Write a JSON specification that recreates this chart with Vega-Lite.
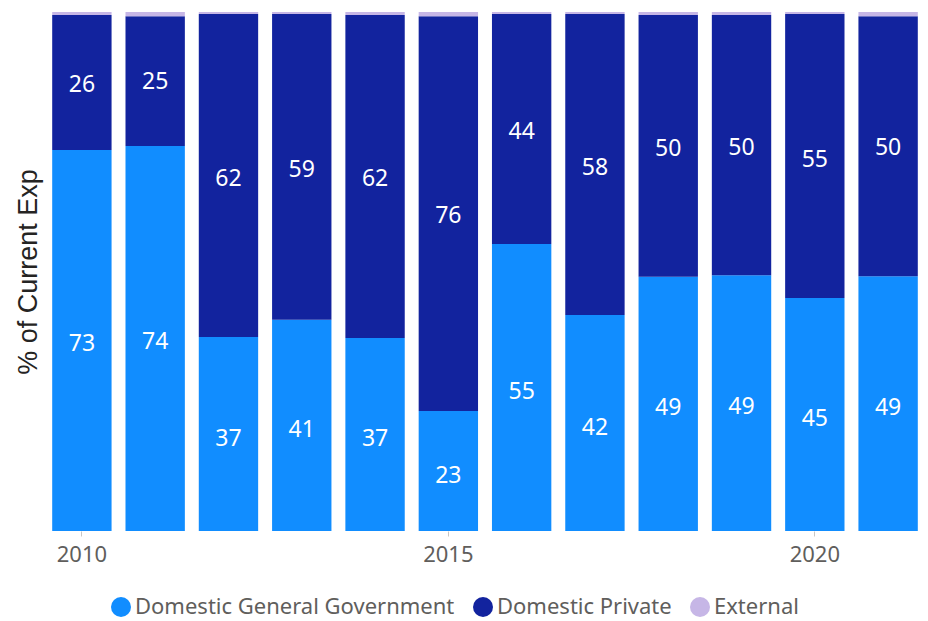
{
  "$schema": "https://vega.github.io/schema/vega-lite/v6.json",
  "width": 870,
  "height": 519,
  "autosize": {"type": "none"},
  "padding": {"left": 50, "top": 12, "right": 8, "bottom": 90},
  "background": "white",
  "config": {"view": {"stroke": null}, "font": "Noto Sans"},
  "data": {"values": [
    {"year": "2010", "source": "Domestic General Government", "order": 1, "value": 73.4},
    {"year": "2010", "source": "Domestic Private", "order": 2, "value": 26.0},
    {"year": "2010", "source": "External", "order": 3, "value": 0.6},
    {"year": "2011", "source": "Domestic General Government", "order": 1, "value": 74.2},
    {"year": "2011", "source": "Domestic Private", "order": 2, "value": 25.0},
    {"year": "2011", "source": "External", "order": 3, "value": 0.8},
    {"year": "2012", "source": "Domestic General Government", "order": 1, "value": 37.4},
    {"year": "2012", "source": "Domestic Private", "order": 2, "value": 62.2},
    {"year": "2012", "source": "External", "order": 3, "value": 0.4},
    {"year": "2013", "source": "Domestic General Government", "order": 1, "value": 40.7},
    {"year": "2013", "source": "Domestic Private", "order": 2, "value": 58.9},
    {"year": "2013", "source": "External", "order": 3, "value": 0.4},
    {"year": "2014", "source": "Domestic General Government", "order": 1, "value": 37.2},
    {"year": "2014", "source": "Domestic Private", "order": 2, "value": 62.2},
    {"year": "2014", "source": "External", "order": 3, "value": 0.6},
    {"year": "2015", "source": "Domestic General Government", "order": 1, "value": 23.1},
    {"year": "2015", "source": "Domestic Private", "order": 2, "value": 76.1},
    {"year": "2015", "source": "External", "order": 3, "value": 0.8},
    {"year": "2016", "source": "Domestic General Government", "order": 1, "value": 55.3},
    {"year": "2016", "source": "Domestic Private", "order": 2, "value": 44.3},
    {"year": "2016", "source": "External", "order": 3, "value": 0.4},
    {"year": "2017", "source": "Domestic General Government", "order": 1, "value": 41.6},
    {"year": "2017", "source": "Domestic Private", "order": 2, "value": 58.0},
    {"year": "2017", "source": "External", "order": 3, "value": 0.4},
    {"year": "2018", "source": "Domestic General Government", "order": 1, "value": 49.0},
    {"year": "2018", "source": "Domestic Private", "order": 2, "value": 50.4},
    {"year": "2018", "source": "External", "order": 3, "value": 0.6},
    {"year": "2019", "source": "Domestic General Government", "order": 1, "value": 49.3},
    {"year": "2019", "source": "Domestic Private", "order": 2, "value": 50.1},
    {"year": "2019", "source": "External", "order": 3, "value": 0.6},
    {"year": "2020", "source": "Domestic General Government", "order": 1, "value": 44.9},
    {"year": "2020", "source": "Domestic Private", "order": 2, "value": 54.7},
    {"year": "2020", "source": "External", "order": 3, "value": 0.4},
    {"year": "2021", "source": "Domestic General Government", "order": 1, "value": 49.1},
    {"year": "2021", "source": "Domestic Private", "order": 2, "value": 50.1},
    {"year": "2021", "source": "External", "order": 3, "value": 0.8}
  ]},
  "encoding": {
    "x": {
      "field": "year", "type": "ordinal",
      "scale": {"paddingInner": 0.19, "paddingOuter": 0.03},
      "axis": {
        "title": null, "labelAngle": 0, "domain": false,
        "labelExpr": "(datum.value == '2010' || datum.value == '2015' || datum.value == '2020') ? datum.value : ''",
        "tickOpacity": {"condition": {"test": "datum.value == '2010' || datum.value == '2015' || datum.value == '2020'", "value": 1}, "value": 0},
        "tickColor": "#C8C6C4", "tickSize": 5, "tickWidth": 1,
        "labelFontSize": 22, "labelColor": "#605E5C", "labelPadding": 8
      }
    }
  },
  "layer": [
    {
      "mark": {"type": "bar"},
      "encoding": {
        "y": {
          "field": "value", "type": "quantitative", "stack": "normalize",
          "axis": {"title": "% of Current Exp", "labels": false, "ticks": false, "domain": false, "grid": false,
                   "titleFontSize": 27, "titleFont": "Liberation Sans", "titleFontWeight": "normal", "titleColor": "#252423", "titlePadding": 8}
        },
        "color": {
          "field": "source", "type": "nominal",
          "scale": {"domain": ["Domestic General Government", "Domestic Private", "External"], "range": ["#118DFF", "#12239E", "#C6B6E6"]},
          "legend": {"title": null, "orient": "none", "legendX": 60, "legendY": 584, "direction": "horizontal", "symbolType": "circle", "symbolSize": 400,
                     "symbolStrokeWidth": 0, "labelFontSize": 22, "labelColor": "#605E5C", "labelLimit": 0, "columnPadding": 17, "labelOffset": 3}
        },
        "order": {"field": "order"}
      }
    },
    {
      "transform": [{"filter": "datum.source != 'External'"}],
      "mark": {"type": "text", "color": "white", "fontSize": 23, "dy": 5},
      "encoding": {
        "y": {"field": "value", "type": "quantitative", "stack": "normalize", "bandPosition": 0.5},
        "detail": {"field": "source"},
        "order": {"field": "order"},
        "text": {"field": "value", "type": "quantitative", "format": ".0f"}
      }
    }
  ]
}
